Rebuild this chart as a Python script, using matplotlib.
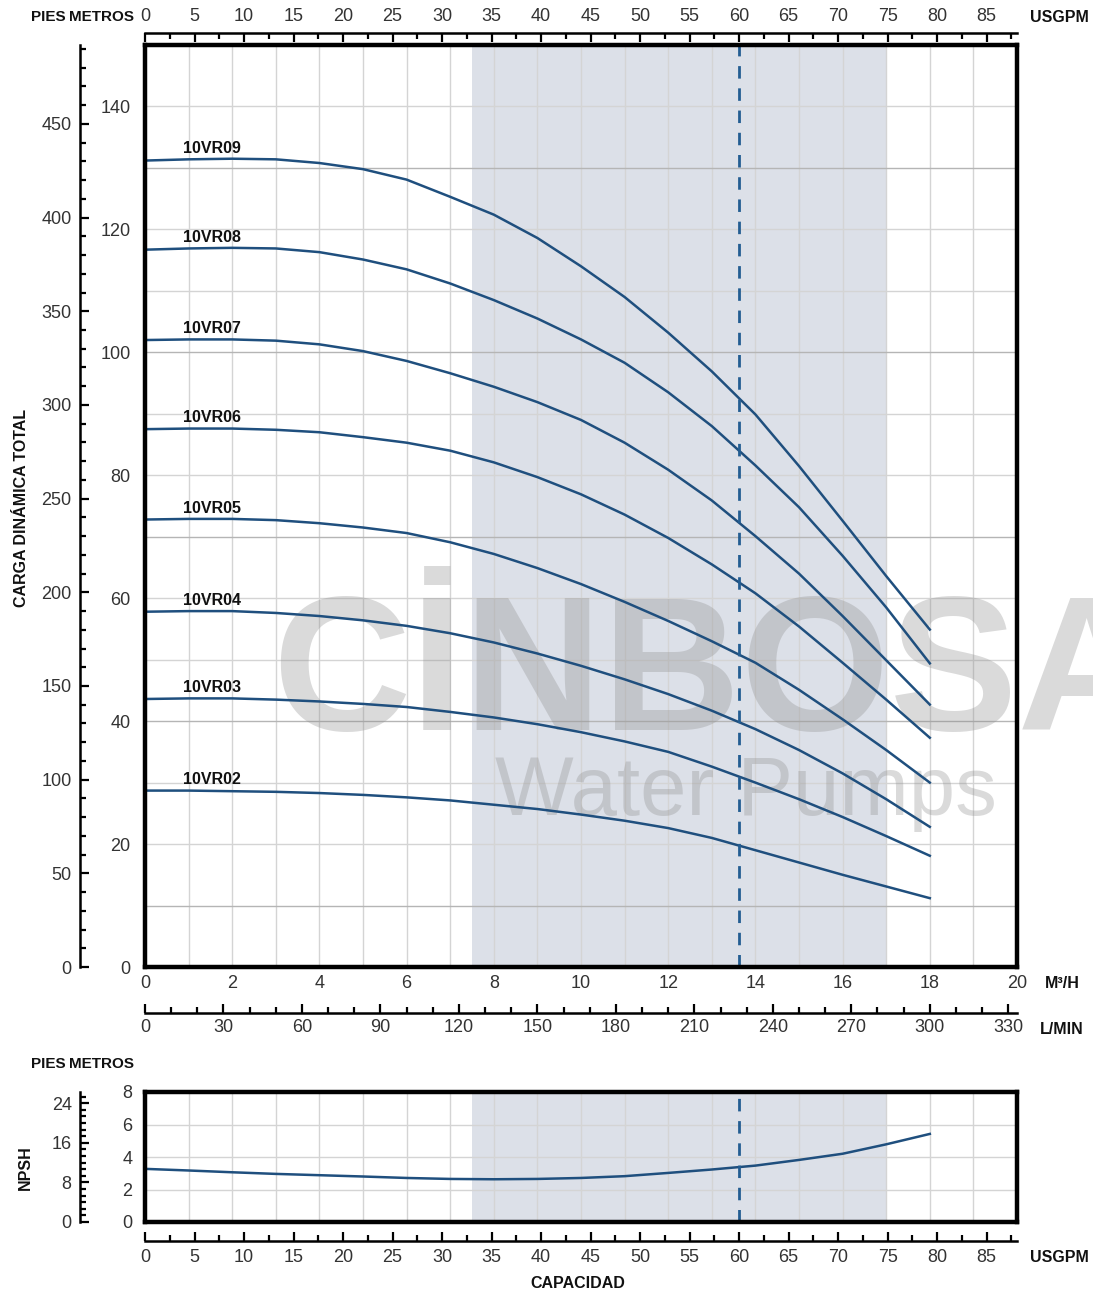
import matplotlib.pyplot as plt
from matplotlib.ticker import MultipleLocator

W, H = 1093, 1296
PT = 0.72  # px -> pt a 100 dpi
plt.rcParams['font.family'] = ['Liberation Sans', 'DejaVu Sans']
plt.rcParams['font.size'] = 13

# caudal (m3/h) y alturas (m)
flow = [0, 1, 2, 3, 4, 5, 6, 7, 8, 9, 10, 11, 12, 13, 14, 15, 16, 17, 18]
vr09 = [131.2, 131.4, 131.5, 131.4, 130.8, 129.8, 128.1, 125.3, 122.4, 118.6, 114.0, 109.0, 103.2, 96.9, 89.9, 81.5, 72.6, 63.6, 54.9]
vr08 = [116.7, 116.9, 117.0, 116.9, 116.3, 115.1, 113.5, 111.2, 108.5, 105.5, 102.1, 98.3, 93.5, 88.0, 81.6, 74.8, 66.9, 58.5, 49.4]
vr07 = [102.0, 102.1, 102.1, 101.9, 101.3, 100.2, 98.6, 96.6, 94.4, 91.9, 89.0, 85.3, 80.9, 75.9, 70.1, 64.0, 57.1, 49.9, 42.7]
vr06 = [87.5, 87.6, 87.6, 87.4, 87.0, 86.2, 85.3, 84.0, 82.1, 79.7, 76.9, 73.6, 69.8, 65.5, 60.8, 55.4, 49.5, 43.5, 37.3]
vr05 = [72.8, 72.9, 72.9, 72.7, 72.2, 71.5, 70.6, 69.1, 67.2, 64.9, 62.3, 59.4, 56.3, 53.0, 49.5, 45.1, 40.3, 35.3, 30.0]
vr04 = [57.8, 57.9, 57.9, 57.6, 57.1, 56.4, 55.5, 54.3, 52.8, 51.0, 49.0, 46.8, 44.4, 41.7, 38.7, 35.3, 31.5, 27.3, 22.8]
vr03 = [43.6, 43.7, 43.7, 43.5, 43.2, 42.8, 42.3, 41.5, 40.6, 39.5, 38.2, 36.7, 35.0, 32.6, 30.0, 27.3, 24.4, 21.3, 18.1]
vr02 = [28.7, 28.7, 28.6, 28.5, 28.3, 28.0, 27.6, 27.1, 26.4, 25.7, 24.8, 23.8, 22.6, 21.0, 19.0, 17.0, 15.0, 13.1, 11.2]
models = ['10VR09', '10VR08', '10VR07', '10VR06', '10VR05', '10VR04', '10VR03', '10VR02']
curves = [vr09, vr08, vr07, vr06, vr05, vr04, vr03, vr02]

npsh = [3.27, 3.17, 3.06, 2.96, 2.88, 2.80, 2.71, 2.65, 2.63, 2.65, 2.71, 2.82, 3.02, 3.23, 3.47, 3.82, 4.20, 4.78, 5.42]

range_min, range_max = 7.5, 17.0   # zona de trabajo
duty_usgpm = 60

M3H_USGPM = 4.40287
M3H_LMIN = 1000 / 60
M_FT = 3.28084

blue = '#1f4f7e'
shade = '#dce0e8'
grid_c = '#d4d4d4'
dark_grid = '#b5b5b5'
txt = '#333333'


def px(x0, y0, x1, y1):
    return [x0 / W, 1 - y1 / H, (x1 - x0) / W, (y1 - y0) / H]


def outer_axis(parent, which, offset_px, lim, major, minor, side, pad):
    t = parent.twiny() if which == 'x' else parent.twinx()
    for s in t.spines.values():
        s.set_visible(False)
    sp = t.spines[side]
    sp.set_visible(True)
    sp.set_position(('outward', offset_px * PT))
    sp.set_linewidth(1.8)
    if which == 'x':
        t.set_xlim(*lim)
        t.xaxis.set_ticks_position(side)
        t.set_xticks(major)
        t.xaxis.set_minor_locator(MultipleLocator(minor))
    else:
        t.set_ylim(*lim)
        t.yaxis.set_ticks_position(side)
        t.set_yticks(major)
        t.yaxis.set_minor_locator(MultipleLocator(minor))
    t.tick_params(axis=which, which='major', direction='in', length=6.5, width=1.6, colors='black',
                  labelcolor=txt, labelsize=13, pad=pad)
    t.tick_params(axis=which, which='minor', direction='in', length=4.2, width=1.6, colors='black')
    return t


fig = plt.figure(figsize=(W / 100, H / 100), dpi=100)

# ---------- curva principal ----------
ax = fig.add_axes(px(145, 45, 1017, 967))
ax.set_xlim(0, 20)
ax.set_ylim(0, 150)
ax.axvspan(range_min, range_max, color=shade, zorder=0, lw=0)
for v in range(1, 20):
    ax.axvline(v, color=grid_c, lw=1, zorder=1)
for h in range(10, 150, 10):
    ax.axhline(h, color=dark_grid if h % 30 == 10 else grid_c, lw=1, zorder=1)

# marca de agua
ax.text(272 / W, 1 - 730 / H, 'CİNBOSA', transform=fig.transFigure, family='Liberation Sans',
        fontweight='bold', fontsize=138, color='#8f8f8f', alpha=0.33, zorder=2, clip_on=False)
ax.text(495 / W, 1 - 815 / H, 'Water Pumps', transform=fig.transFigure, family='Liberation Sans',
        fontsize=60, color='#8f8f8f', alpha=0.33, zorder=2, clip_on=False)

for name, vals in zip(models, curves):
    ax.plot(flow, vals, color=blue, lw=1.8, zorder=3, solid_joinstyle='round')
    ax.text(0.87, vals[1] + 1.0, name, fontweight='bold', fontsize=11.5, va='baseline',
            color='#111111', zorder=4)

ax.axvline(duty_usgpm / M3H_USGPM, color='#235d92', lw=2, ls=(0, (4.5, 3.5)), zorder=4)

ax.set_xticks(range(0, 21, 2))
ax.set_yticks(range(0, 141, 20))
ax.tick_params(axis='x', length=0, pad=5.5, labelsize=13, labelcolor=txt)
ax.tick_params(axis='y', length=0, pad=10.5, labelsize=13, labelcolor=txt)
for s in ax.spines.values():
    s.set_linewidth(3.2)
    s.set_zorder(5)

outer_axis(ax, 'x', 12, (0, 20 * M3H_USGPM), range(0, 90, 5), 2.5, 'top', 6)
outer_axis(ax, 'x', 46, (0, 20 * M3H_LMIN), range(0, 331, 30), 10, 'bottom', 4.5)
outer_axis(ax, 'y', 65, (0, 150 * M_FT), range(0, 451, 50), 10, 'left', 6)

# ---------- NPSH ----------
axn = fig.add_axes(px(145, 1092, 1017, 1222))
axn.set_xlim(0, 20)
axn.set_ylim(0, 8)
axn.axvspan(range_min, range_max, color=shade, zorder=0, lw=0)
for v in range(1, 20):
    axn.axvline(v, color=grid_c, lw=1, zorder=1)
for h in range(2, 8, 2):
    axn.axhline(h, color=grid_c, lw=1, zorder=1)
axn.plot(flow, npsh, color=blue, lw=1.8, zorder=3, solid_joinstyle='round')
axn.axvline(duty_usgpm / M3H_USGPM, color='#235d92', lw=2, ls=(0, (4.5, 3.5)), zorder=4)
axn.set_xticks([])
axn.set_yticks(range(0, 9, 2))
axn.tick_params(axis='y', length=0, pad=9, labelsize=13, labelcolor=txt)
for s in axn.spines.values():
    s.set_linewidth(3.2)
    s.set_zorder(5)

outer_axis(axn, 'x', 19, (0, 20 * M3H_USGPM), range(0, 90, 5), 2.5, 'bottom', 6)
outer_axis(axn, 'y', 65, (0, 8 * M_FT), [0, 8, 16, 24], 4 / 3, 'left', 6)

# ---------- textos ----------
bold = dict(fontweight='bold', fontsize=11.5, color='#111111', va='center')
small = dict(bold, fontsize=11)
fig.text(48 / W, 1 - 17 / H, 'PIES', ha='center', **small)
fig.text(101 / W, 1 - 17 / H, 'METROS', ha='center', **small)
fig.text(1089 / W, 1 - 17 / H, 'USGPM', ha='right', **bold)
fig.text(1080 / W, 1 - 983 / H, 'M³/H', ha='right', **bold)
fig.text(1084 / W, 1 - 1029 / H, 'L/MIN', ha='right', **bold)
fig.text(48 / W, 1 - 1064 / H, 'PIES', ha='center', **small)
fig.text(101 / W, 1 - 1064 / H, 'METROS', ha='center', **small)
fig.text(1089 / W, 1 - 1258 / H, 'USGPM', ha='right', **bold)
fig.text(578 / W, 1 - 1283 / H, 'CAPACIDAD', ha='center', **bold)
fig.text(22 / W, 1 - 508 / H, 'CARGA DINÁMICA TOTAL', ha='center', rotation=90, **bold)
fig.text(25 / W, 1 - 1168 / H, 'NPSH', ha='center', rotation=90, **bold)

plt.savefig('out.png', dpi=100)
